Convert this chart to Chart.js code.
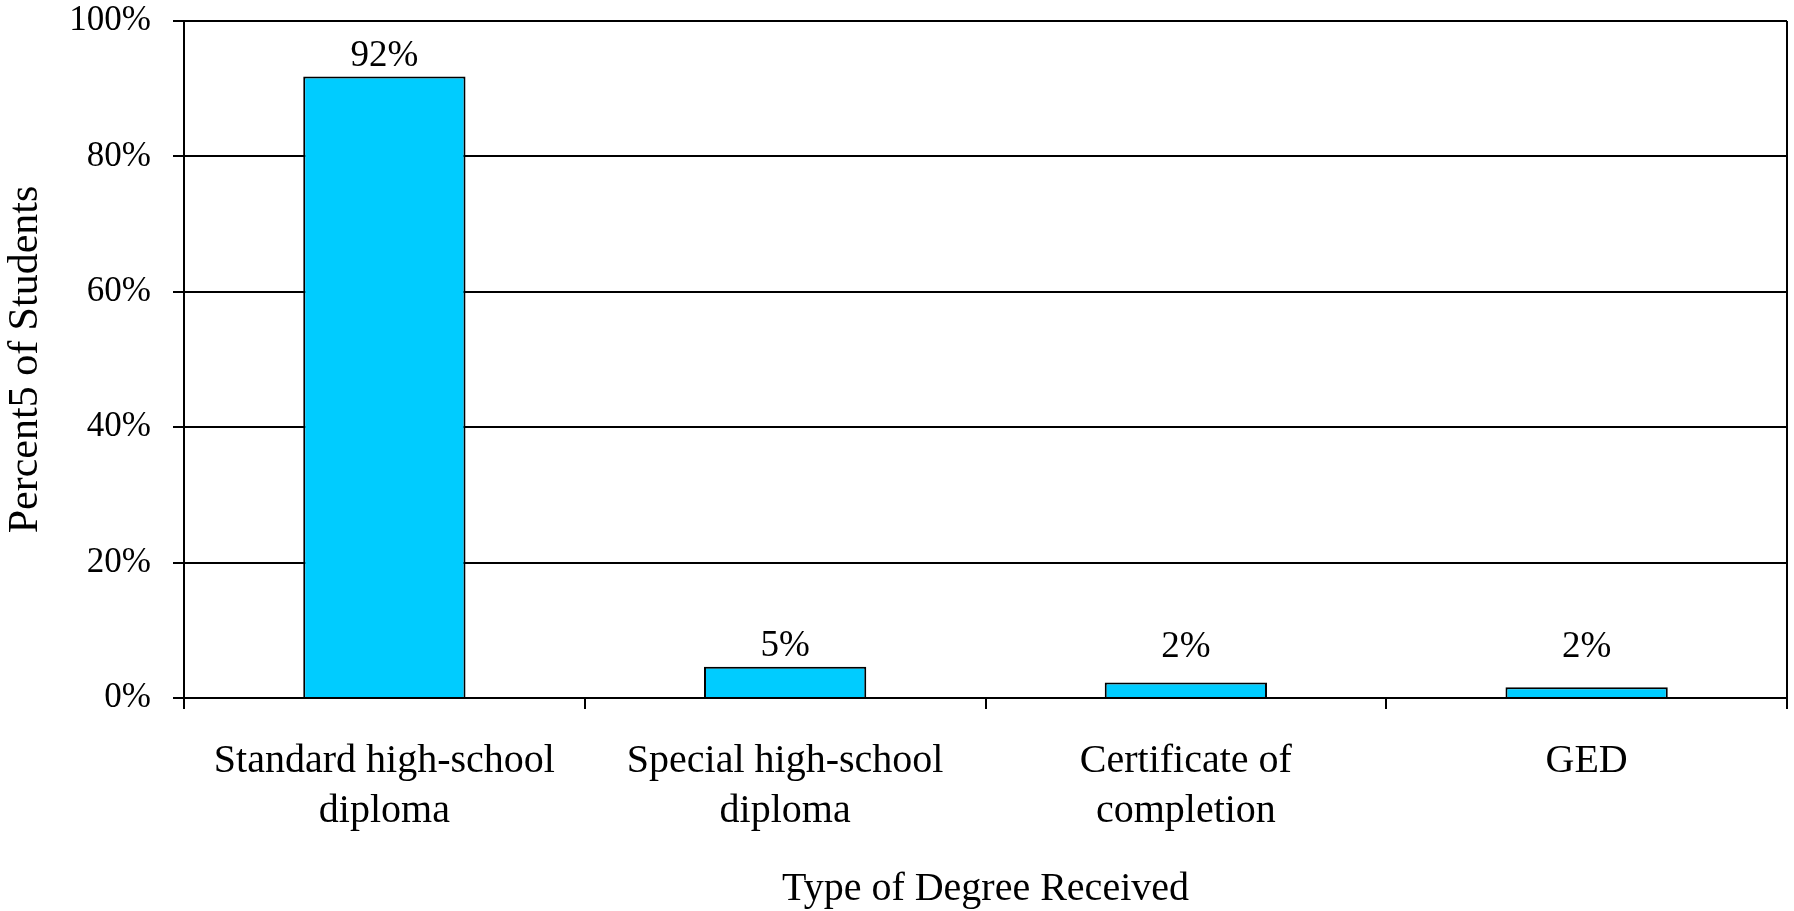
<!DOCTYPE html>
<html>
<head>
<meta charset="utf-8">
<script src="https://cdn.jsdelivr.net/npm/chart.js@4.4.0/dist/chart.umd.min.js"></script>
<style>
  html, body { margin: 0; padding: 0; background: #fff; }
  #wrap { width: 1794px; height: 911px; }
</style>
</head>
<body>
<div id="wrap"><canvas id="myChart" width="1794" height="911"></canvas></div>
<script>
var categories = [
  ["Standard high-school", "diploma"],
  ["Special high-school", "diploma"],
  ["Certificate of", "completion"],
  ["GED"]
];
var percents = [91.8, 4.6, 2.3, 1.6];
var yTicks = [0, 20, 40, 60, 80, 100];

var serif = "'Liberation Serif', 'Times New Roman', serif";

// value labels above each bar, kept clear of the axis line
var barLabels = {
  id: "barLabels",
  afterDatasetsDraw: function(chart) {
    var ctx = chart.ctx;
    var meta = chart.getDatasetMeta(0);
    ctx.save();
    ctx.font = "37px " + serif;
    ctx.fillStyle = "#000";
    ctx.textAlign = "center";
    ctx.textBaseline = "alphabetic";
    meta.data.forEach(function(bar, i) {
      var y = Math.min(bar.y - 11, bar.base - 40);
      ctx.fillText(Math.round(percents[i]) + "%", bar.x, y);
    });
    ctx.restore();
  }
};

// right side of the plot box
var frame = {
  id: "frame",
  afterDraw: function(chart) {
    var a = chart.chartArea;
    var ctx = chart.ctx;
    ctx.save();
    ctx.strokeStyle = "#000";
    ctx.lineWidth = 2;
    ctx.beginPath();
    ctx.moveTo(a.right, a.top);
    ctx.lineTo(a.right, a.bottom + 11);
    ctx.stroke();
    ctx.restore();
  }
};

new Chart("myChart", {
  type: "bar",
  data: {
    labels: categories,
    datasets: [{
      data: percents,
      backgroundColor: "#00CCFF",
      borderColor: "#000",
      borderWidth: 2,
      barPercentage: 0.405,
      categoryPercentage: 1
    }]
  },
  plugins: [barLabels, frame],
  options: {
    responsive: false,
    animation: false,
    layout: { padding: { top: 0, right: 7, bottom: 0, left: 0 } },
    plugins: {
      legend: { display: false },
      tooltip: { enabled: false }
    },
    scales: {
      x: {
        offset: true,
        grid: {
          offset: true,
          drawOnChartArea: false,
          drawTicks: true,
          tickLength: 11,
          color: "#000",
          lineWidth: 2
        },
        border: { color: "#000", width: 2 },
        ticks: {
          color: "#000",
          font: { family: serif, size: 40, lineHeight: 1.25 },
          padding: 27,
          maxRotation: 0,
          autoSkip: false
        },
        title: {
          display: true,
          text: "Type of Degree Received",
          color: "#000",
          font: { family: serif, size: 40, lineHeight: 1 },
          padding: { top: 0, bottom: 2 }
        },
        afterFit: function(scale) { scale.height = 213; }
      },
      y: {
        min: 0,
        max: 100,
        afterBuildTicks: function(scale) {
          scale.ticks = yTicks.map(function(v) { return { value: v }; });
        },
        grid: {
          color: "#000",
          lineWidth: 2,
          drawTicks: true,
          tickLength: 11
        },
        border: { color: "#000", width: 2 },
        ticks: {
          color: "#000",
          font: { family: serif, size: 35 },
          padding: 22,
          callback: function(v) { return v + "%"; }
        },
        title: {
          display: true,
          text: "Percent5 of Students",
          color: "#000",
          font: { family: serif, size: 42, lineHeight: 1 },
          padding: { top: 5, bottom: 0 }
        },
        afterFit: function(scale) {
          scale.width = 184;
          scale.paddingTop = 21;
          scale.paddingBottom = 0;
        }
      }
    }
  }
});
</script>
</body>
</html>
